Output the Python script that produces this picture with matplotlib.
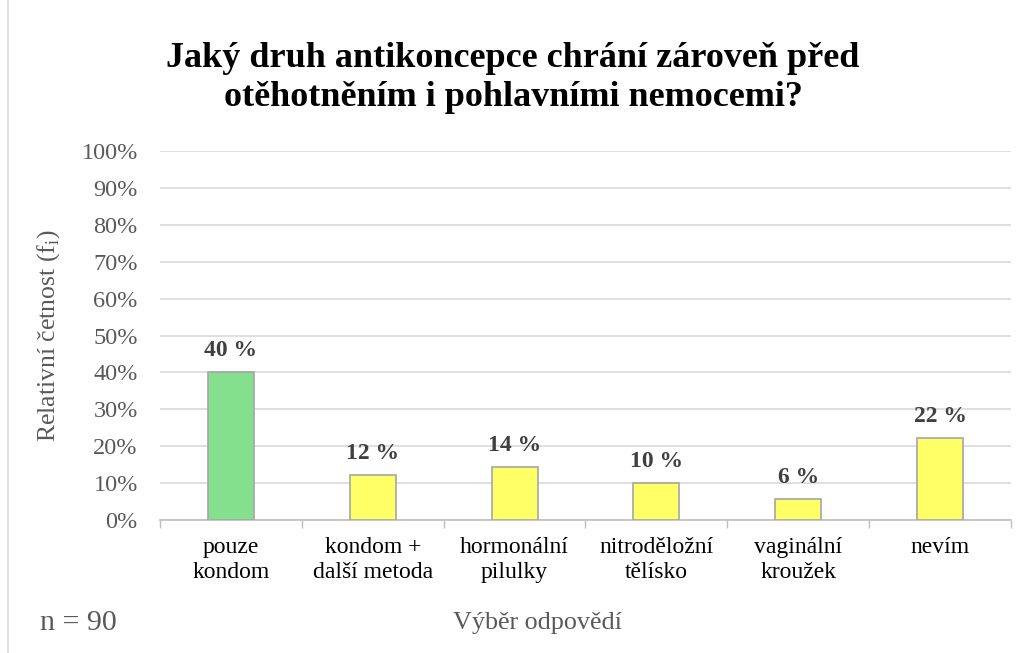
import matplotlib
matplotlib.use("Agg")
import matplotlib.pyplot as plt
import numpy as np
from matplotlib.patches import Rectangle

plt.rcParams['font.family'] = ['Liberation Serif', 'DejaVu Serif']
plt.rcParams['mathtext.fontset'] = 'custom'
plt.rcParams['mathtext.rm'] = 'Liberation Serif'

# data
kategorie = ["pouze\nkondom", "kondom +\ndalší metoda", "hormonální\npilulky",
             "nitroděložní\ntělísko", "vaginální\nkroužek", "nevím"]
hodnoty = [40.0, 12.2, 14.4, 10.0, 5.6, 22.2]
popisky = ["40 %", "12 %", "14 %", "10 %", "6 %", "22 %"]
barvy = ["#84e08c", "#ffff66", "#ffff66", "#ffff66", "#ffff66", "#ffff66"]

fig = plt.figure(figsize=(10.26, 6.53), dpi=100)
ax = fig.add_axes([160/1026, 1-520/653, 851/1026, 369/653])

x = np.arange(len(kategorie))
ax.bar(x, hodnoty, width=0.325, color=barvy, edgecolor="#a6a6a6", linewidth=1.2, zorder=3)
for xi, h, t in zip(x, hodnoty, popisky):
    ax.text(xi, h + 3, t, ha="center", va="bottom", fontsize=17, fontweight="bold", color="#404040")

ax.set_xlim(-0.5, len(kategorie) - 0.5)
ax.set_ylim(0, 100)
ax.set_yticks(np.arange(0, 101, 10))
ax.set_yticklabels([f"{v}%" for v in range(0, 101, 10)], fontsize=17.5, color="#595959")
ax.yaxis.grid(True, color="#d9d9d9", linewidth=1.2, zorder=0)
ax.tick_params(axis="y", length=0, pad=16)

ax.set_xticks(x)
ax.set_xticklabels(kategorie, fontsize=17, color="black", linespacing=1.3)
ax.set_xticks(np.arange(-0.5, len(kategorie)), minor=True)
ax.tick_params(axis="x", which="major", length=0, pad=12)
ax.tick_params(axis="x", which="minor", length=6, color="#bfbfbf", width=1)

for s in ["top", "right", "left"]:
    ax.spines[s].set_visible(False)
ax.spines["bottom"].set_color("#bfbfbf")
ax.spines["bottom"].set_linewidth(1.2)

ax.set_ylabel("Relativní četnost (f$_\\mathrm{i}$)", fontsize=18.5, color="#595959")
ax.yaxis.set_label_coords(-(160 - 62) / 851, 0.5)

fig.text(0.5, 1-78/653, "Jaký druh antikoncepce chrání zároveň před\notěhotněním i pohlavními nemocemi?",
         ha="center", va="center", fontsize=26, fontweight="bold", color="black", linespacing=1.25)
fig.text(537/1026, 1-623/653, "Výběr odpovědí", ha="center", va="center", fontsize=18.8, color="#595959")
fig.text(40/1026, 1-623/653, "n = 90", ha="left", va="center", fontsize=21.5, color="#595959")

fig.patches.append(Rectangle((8/1026, -0.01), 1.1, 1.02, transform=fig.transFigure,
                             fill=False, edgecolor="#d9d9d9", linewidth=1.2))

fig.savefig("out.png", dpi=100)
